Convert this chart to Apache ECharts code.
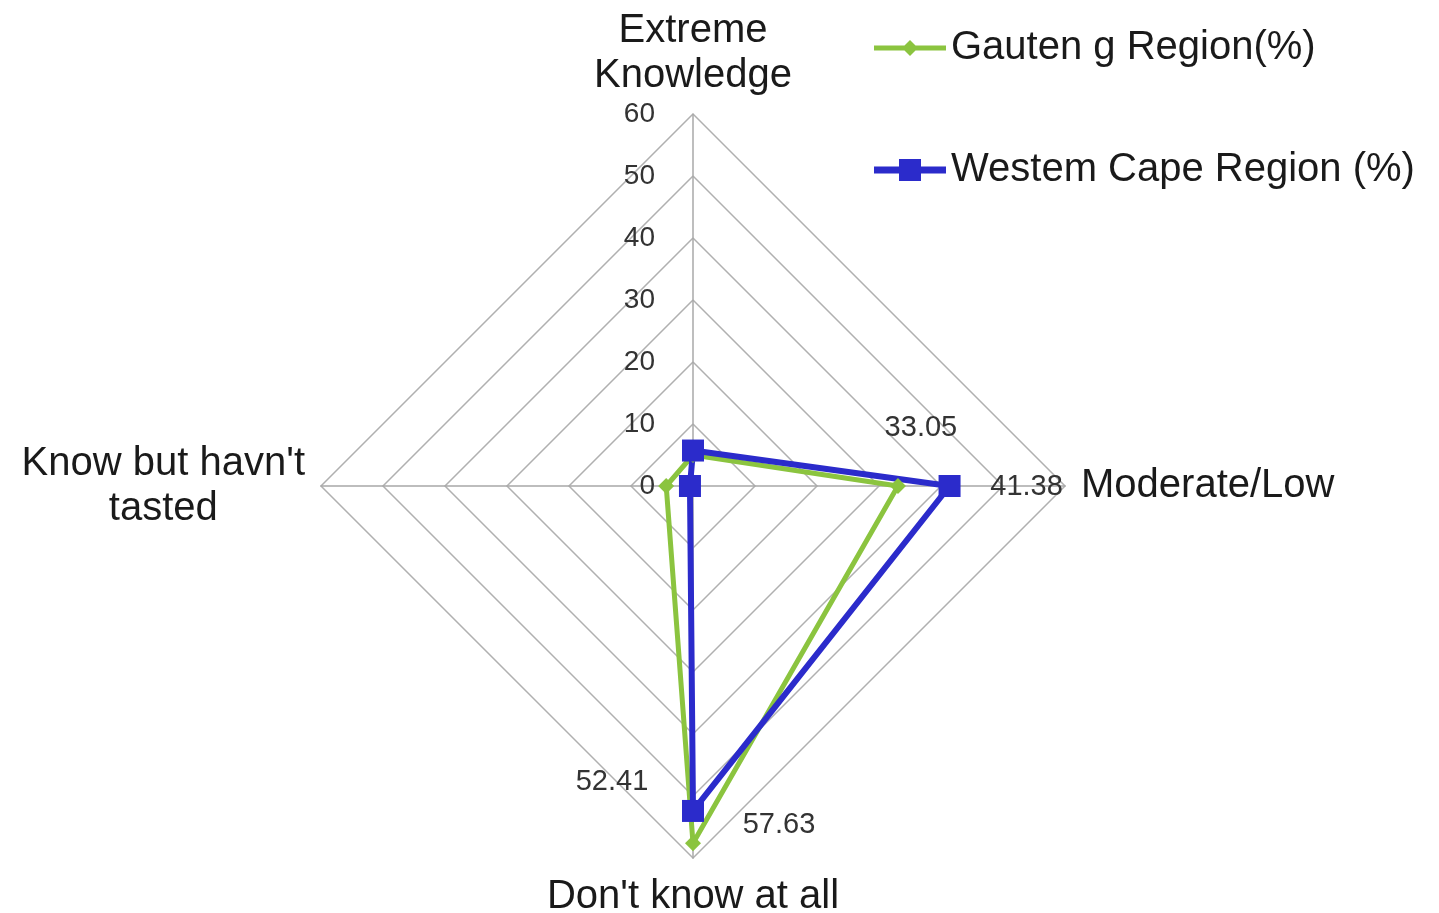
<!DOCTYPE html>
<html>
<head>
<meta charset="utf-8">
<script src="https://cdn.jsdelivr.net/npm/echarts@6/dist/echarts.min.js"></script>
<style>
  html, body { margin: 0; padding: 0; background: #fff; }
  #radar { width: 1439px; height: 913px; }
</style>
</head>
<body>
<div id="radar"></div>
<script>
// indicators in echarts order (top, then counter-clockwise: left, bottom, right)
var categories = ['Extreme\nKnowledge', "Know but havn't\ntasted", "Don't know at all", 'Moderate/Low'];
var gauteng = [5.0, 4.32, 57.63, 33.05];
var westernCape = [5.72, 0.49, 52.41, 41.38];
var seriesNames = ['Gauten g Region(%)', 'Westem Cape Region (%)'];
var tickMax = 60;

// where each printed value sits relative to its point [dx, dy], by series then indicator
var labelNudge = [
    { 2: [86, -18], 3: [23, -58] },
    { 2: [-81, -29], 3: [77, 1] }
];
var seriesValues = [gauteng, westernCape];

function nudgeStyle(d) {
    return {
        fontSize: 29,
        color: '#333',
        fontFamily: 'Liberation Sans',
        padding: [Math.max(0, 2 * d[1]), Math.max(0, -2 * d[0]), Math.max(0, -2 * d[1]), Math.max(0, 2 * d[0])]
    };
}
var rich = {};
labelNudge.forEach(function (m, s) {
    Object.keys(m).forEach(function (k) { rich['s' + s + 'i' + k] = nudgeStyle(m[k]); });
});

var greenIcon = 'path://M0,5.5H72V10.5H0Z M36,0L44,8L36,16L28,8Z';
var blueIcon = 'path://M0,7.5H72V14.5H0Z M25,0H47V22H25Z';

echarts.init(document.getElementById('radar')).setOption({
    textStyle: { fontFamily: 'Liberation Sans' },
    legend: {
        orient: 'vertical',
        left: 869,
        top: 20,
        itemGap: 76,
        itemWidth: 72,
        itemHeight: 24,
        data: [
            { name: seriesNames[0], icon: greenIcon },
            { name: seriesNames[1], icon: blueIcon }
        ],
        itemStyle: { borderWidth: 0 },
        textStyle: { fontSize: 40, color: '#1a1a1a', lineHeight: 46 }
    },
    radar: {
        center: [693, 486],
        radius: 372,
        shape: 'polygon',
        splitNumber: 6,
        startAngle: 90,
        indicator: categories.map(function (c, i) {
            var ind = { name: c, min: 0, max: tickMax };
            if (i === 0) ind.axisLabel = { show: true };
            return ind;
        }),
        axisName: {
            color: '#1a1a1a',
            fontSize: 40,
            formatter: function (n) { return '{c|' + n.split('\n').join('}\n{c|') + '}'; },
            rich: { c: { fontSize: 40, color: '#1a1a1a', align: 'center', lineHeight: 45, fontFamily: 'Liberation Sans' } }
        },
        nameGap: 16,
        axisLabel: { show: false, fontSize: 28, color: '#333', margin: 38 },
        axisTick: { show: false },
        axisLine: { lineStyle: { color: '#a8a8a8', width: 1.5 } },
        splitLine: { lineStyle: { color: '#b0b0b0', width: 1.5 } },
        splitArea: { show: false }
    },
    series: [{
        type: 'radar',
        label: {
            show: true,
            position: 'inside',
            formatter: function (p) {
                var vals = seriesValues[p.dataIndex];
                var i = vals.indexOf(p.value);
                var key = 's' + p.dataIndex + 'i' + i;
                return rich[key] ? '{' + key + '|' + p.value + '}' : '';
            },
            rich: rich
        },
        data: [
            {
                name: seriesNames[0],
                value: gauteng,
                symbol: 'diamond',
                symbolSize: 16,
                itemStyle: { color: '#8bc43f' },
                lineStyle: { color: '#8bc43f', width: 5 }
            },
            {
                name: seriesNames[1],
                value: westernCape,
                symbol: 'rect',
                symbolSize: 22,
                itemStyle: { color: '#2b2bcb' },
                lineStyle: { color: '#2b2bcb', width: 6 }
            }
        ]
    }]
});
</script>
</body>
</html>
